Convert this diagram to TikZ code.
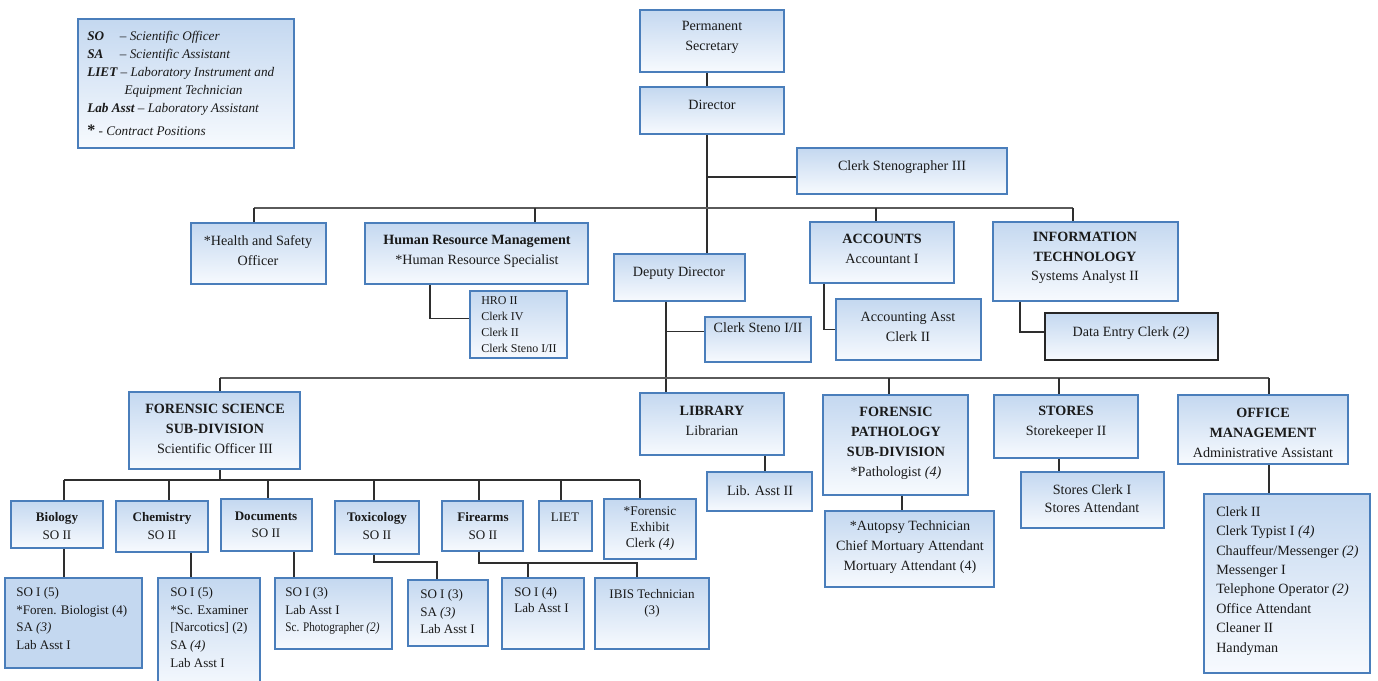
\documentclass[tikz,border=0pt]{standalone}
\usepackage{graphicx}
\usepackage{fontspec}
\setmainfont{Liberation Serif}
\usetikzlibrary{fit}
\definecolor{bord}{HTML}{4A7EBB}
\definecolor{topb}{HTML}{C4D8F0}
\definecolor{botb}{HTML}{F7FAFE}
\definecolor{lnc}{HTML}{2E2E2E}
\definecolor{busc}{HTML}{5A5A5A}
\definecolor{txc}{HTML}{1A1A1A}
\tikzset{
 box/.style={draw=bord, line width=1.3pt, top color=topb, bottom color=botb, inner sep=0pt},
 flatbox/.style={draw=bord, line width=1.3pt, fill=topb, inner sep=0pt},
 blackbox/.style={draw=black!85, line width=1.3pt, top color=topb, bottom color=botb, inner sep=0pt},
 conn/.style={draw=lnc, line width=1.3pt},
 bus/.style={draw=busc, line width=2pt},
 big/.style={font=\fontsize{10.6}{15}\selectfont, align=center, inner sep=0pt, text=txc},
 mid/.style={font=\fontsize{9.8}{12.8}\selectfont, align=center, inner sep=0pt, text=txc},
 lst/.style={font=\fontsize{9.8}{13.3}\selectfont, align=left, inner sep=0pt, anchor=north west, text=txc},
}
\newcommand\bx[6]{\node[#6, fit={(#2,#3) (#4,#5)}] (#1) {};}
\begin{document}
\begin{tikzpicture}[x=0.75pt,y=-0.75pt]
\useasboundingbox (0,0) rectangle (1378,681);
\fill[white] (0,0) rectangle (1378,681);

% legend
\bx{leg}{78}{19}{294}{148}{box}
\node[anchor=north west, inner sep=0pt, align=left, text=txc, font=\fontsize{9.9}{13.5}\selectfont\itshape] (legt) at (87,31)
 {\makebox[24.5pt][l]{\textbf{SO}}– Scientific Officer\\
  \makebox[24.5pt][l]{\textbf{SA}}– Scientific Assistant\\
  \textbf{LIET} – Laboratory Instrument and\\
  \hspace*{28pt}Equipment Technician\\
  \textbf{Lab Asst} – Laboratory Assistant\\[4pt]
  {\upshape\bfseries\large *} - Contract Positions};

% top levels
\bx{ps}{640}{10}{784}{72}{box}
\node[big] (pst) at (712,37) {Permanent\\Secretary};
\bx{dir}{640}{87}{784}{134}{box}
\node[big] (dirt) at (712,105) {Director};
\bx{cs3}{797}{148}{1007}{194}{box}
\node[big] (cs3t) at (902,167) {Clerk Stenographer III};

\bx{hs}{191}{223}{326}{284}{box}
\node[big] (hst) at (258,251) {*Health and Safety\\Officer};
\bx{hrm}{365}{223}{588}{284}{box}
\node[big] (hrmt) at (477,251) {\textbf{Human Resource Management}\\*Human Resource Specialist};
\bx{hrmsub}{470}{291}{567}{358}{box}
\node[lst, font=\fontsize{9}{12}\selectfont] (hrmsubt) at (481,296) {HRO II\\Clerk IV\\Clerk II\\Clerk Steno I/II};

\bx{dd}{614}{254}{745}{301}{box}
\node[big] (ddt) at (679,273) {Deputy Director};
\bx{cs12}{705}{317}{811}{362}{box}
\node[big] (cs12t) at (758,328) {Clerk Steno I/II};

\bx{acc}{810}{222}{954}{283}{box}
\node[big] (acct) at (882,249) {\textbf{ACCOUNTS}\\Accountant I};
\bx{aa}{836}{299}{981}{360}{box}
\node[big] (aat) at (908,327) {Accounting Asst\\Clerk II};

\bx{it}{993}{222}{1178}{301}{box}
\node[big, font=\fontsize{10.6}{14.6}\selectfont] (itt) at (1085,258) {\textbf{INFORMATION}\\\textbf{TECHNOLOGY}\\Systems Analyst II};
\bx{de}{1045}{313}{1218}{360}{blackbox}
\node[big] (det) at (1131,333) {Data Entry Clerk \textit{(2)}};

% second level
\bx{fs}{129}{392}{300}{469}{box}
\node[big] (fst) at (215,429) {\textbf{FORENSIC SCIENCE}\\\textbf{SUB-DIVISION}\\Scientific Officer III};
\bx{lib}{640}{393}{784}{455}{box}
\node[big] (libt) at (712,421) {\textbf{LIBRARY}\\Librarian};
\bx{la}{707}{472}{812}{511}{box}
\node[big] (lat) at (760,491) {Lib. Asst II};
\bx{fp}{823}{395}{968}{495}{box}
\node[big] (fpt) at (896,443) {\textbf{FORENSIC}\\\textbf{PATHOLOGY}\\\textbf{SUB-DIVISION}\\*Pathologist \textit{(4)}};
\bx{aut}{825}{511}{994}{587}{box}
\node[big] (autt) at (910,547) {*Autopsy Technician\\Chief Mortuary Attendant\\Mortuary Attendant (4)};
\bx{st}{994}{395}{1138}{458}{box}
\node[big] (stt) at (1066,422) {\textbf{STORES}\\Storekeeper II};
\bx{ss}{1021}{472}{1164}{528}{box}
\node[big, font=\fontsize{10.6}{13.5}\selectfont] (sst) at (1092,499) {Stores Clerk I\\Stores Attendant};
\bx{om}{1178}{395}{1348}{464}{box}
\node[big] (omt) at (1263,433) {\textbf{OFFICE}\\\textbf{MANAGEMENT}\\Administrative Assistant};
\bx{os}{1204}{494}{1370}{673}{box}
\node[lst, font=\fontsize{10.6}{14.6}\selectfont] (ost) at (1216,506) {Clerk II\\Clerk Typist I \textit{(4)}\\Chauffeur/Messenger \textit{(2)}\\Messenger I\\Telephone Operator \textit{(2)}\\Office Attendant\\Cleaner II\\Handyman};

% forensic science units
\bx{bio}{11}{501}{103}{548}{box}
\node[mid] (biot) at (57,526) {\textbf{Biology}\\SO II};
\bx{chem}{116}{501}{208}{552}{box}
\node[mid] (chemt) at (162,526) {\textbf{Chemistry}\\SO II};
\bx{doc}{221}{499}{312}{551}{box}
\node[mid] (doct) at (266,525) {\textbf{Documents}\\SO II};
\bx{tox}{335}{501}{419}{554}{box}
\node[mid] (toxt) at (377,526) {\textbf{Toxicology}\\SO II};
\bx{fire}{442}{501}{523}{551}{box}
\node[mid] (firet) at (483,526) {\textbf{Firearms}\\SO II};
\bx{liet}{539}{501}{592}{551}{box}
\node[mid] (lietst) at (565,517) {LIET};
\bx{fec}{604}{499}{696}{559}{box}
\node[mid, font=\fontsize{10}{12}\selectfont] (fect) at (650,529) {*Forensic\\Exhibit\\Clerk \textit{(4)}};

\bx{biosub}{5}{578}{142}{668}{flatbox}
\node[lst] (biosubt) at (16,587) {SO I (5)\\*Foren. Biologist (4)\\SA \textit{(3)}\\Lab Asst I};
\bx{chemsub}{158}{578}{260}{692}{box}
\node[lst] (chemsubt) at (170,587) {SO I (5)\\*Sc. Examiner\\{[}Narcotics{]} (2)\\SA \textit{(4)}\\Lab Asst I};
\bx{docsub}{275}{578}{392}{649}{box}
\node[lst] (docsubt) at (285,587) {SO I (3)\\Lab Asst I\\\scalebox{0.86}[1]{Sc. Photographer \textit{(2)}}};
\bx{toxsub}{408}{580}{488}{646}{box}
\node[lst] (toxsubt) at (420,589) {SO I (3)\\SA \textit{(3)}\\Lab Asst I};
\bx{firesub}{502}{578}{584}{649}{box}
\node[lst, font=\fontsize{9.8}{12}\selectfont] (firesubt) at (514,587) {SO I (4)\\Lab Asst I};
\bx{ibis}{595}{578}{709}{649}{box}
\node[mid, font=\fontsize{9.8}{12}\selectfont] (ibist) at (652,603) {IBIS Technician\\(3)};

% coordinates for connector x / y positions
\coordinate (spine) at (707,0);
\coordinate (b1) at (0,208);
\coordinate (b2) at (0,378);
\coordinate (b3) at (0,480);
\coordinate (b4) at (0,562);
\coordinate (b5) at (0,563);
\coordinate (xhs) at (254,0);
\coordinate (xhrm) at (535,0);
\coordinate (xacc1) at (876,0);
\coordinate (xit1) at (1073,0);
\coordinate (xhrm2) at (430,0);
\coordinate (xdd) at (666,0);
\coordinate (xacc) at (824,0);
\coordinate (xit2) at (1020,0);
\coordinate (xfs) at (220,0);
\coordinate (xfp) at (889,0);
\coordinate (xst) at (1059,0);
\coordinate (xom) at (1269,0);
\coordinate (xla) at (765,0);
\coordinate (xaut) at (902,0);
\coordinate (xbio) at (64,0);
\coordinate (xchem) at (169,0);
\coordinate (xdoc) at (268,0);
\coordinate (xtox) at (374,0);
\coordinate (xfire) at (479,0);
\coordinate (xliet) at (561,0);
\coordinate (xfec) at (640,0);
\coordinate (xchems) at (191,0);
\coordinate (xdocs) at (294,0);
\coordinate (xtoxs) at (437,0);
\coordinate (xfires) at (528,0);
\coordinate (xibis) at (637,0);
\coordinate (cs3in) at ([yshift=-4.5pt]cs3.west);
\coordinate (hrmin) at ([yshift=4.5pt]hrmsub.west);
\coordinate (cs12in) at ([yshift=6pt]cs12.west);
\coordinate (dein) at ([yshift=3.5pt]de.west);

% top connectors
\draw[conn] (ps.south -| spine) -- (dir.north -| spine);
\draw[conn] (dir.south -| spine) -- (dd.north -| spine);
\draw[conn] (cs3in) -- (cs3in -| spine);
\draw[bus] (xhs |- b1) -- (xit1 |- b1);
\draw[conn] (xhs |- b1) -- (hs.north -| xhs);
\draw[conn] (xhrm |- b1) -- (hrm.north -| xhrm);
\draw[conn] (xacc1 |- b1) -- (acc.north -| xacc1);
\draw[conn] (xit1 |- b1) -- (it.north -| xit1);
\draw[conn] (hrm.south -| xhrm2) |- (hrmin);
\draw[conn] (acc.south -| xacc) |- (aa.west);
\draw[conn] (it.south -| xit2) |- (dein);
\draw[conn] (dd.south -| xdd) -- (lib.north -| xdd);
\draw[conn] (cs12in -| xdd) -- (cs12in);

% second bus
\draw[bus] (xfs |- b2) -- (xom |- b2);
\draw[conn] (xfs |- b2) -- (fs.north -| xfs);
\draw[conn] (xfp |- b2) -- (fp.north -| xfp);
\draw[conn] (xst |- b2) -- (st.north -| xst);
\draw[conn] (xom |- b2) -- (om.north -| xom);
\draw[conn] (lib.south -| xla) -- (la.north -| xla);
\draw[conn] (fp.south -| xaut) -- (aut.north -| xaut);
\draw[conn] (st.south -| xst) -- (ss.north -| xst);
\draw[conn] (om.south -| xom) -- (os.north -| xom);

% forensic science bus
\draw[conn] (fs.south -| xfs) -- (xfs |- b3);
\draw[conn] (xbio |- b3) -- (xfec |- b3);
\draw[conn] (xbio |- b3) -- (bio.north -| xbio);
\draw[conn] (xchem |- b3) -- (chem.north -| xchem);
\draw[conn] (xdoc |- b3) -- (doc.north -| xdoc);
\draw[conn] (xtox |- b3) -- (tox.north -| xtox);
\draw[conn] (xfire |- b3) -- (fire.north -| xfire);
\draw[conn] (xliet |- b3) -- (liet.north -| xliet);
\draw[conn] (xfec |- b3) -- (fec.north -| xfec);

% units to staff
\draw[conn] (bio.south -| xbio) -- (biosub.north -| xbio);
\draw[conn] (chem.south -| xchems) -- (chemsub.north -| xchems);
\draw[conn] (doc.south -| xdocs) -- (docsub.north -| xdocs);
\draw[conn] (tox.south -| xtox) -- (xtox |- b4) -| (toxsub.north -| xtoxs);
\draw[conn] (fire.south -| xfire) -- (xfire |- b5) -| (ibis.north -| xibis);
\draw[conn] (xfires |- b5) -- (firesub.north -| xfires);
\end{tikzpicture}
\end{document}
